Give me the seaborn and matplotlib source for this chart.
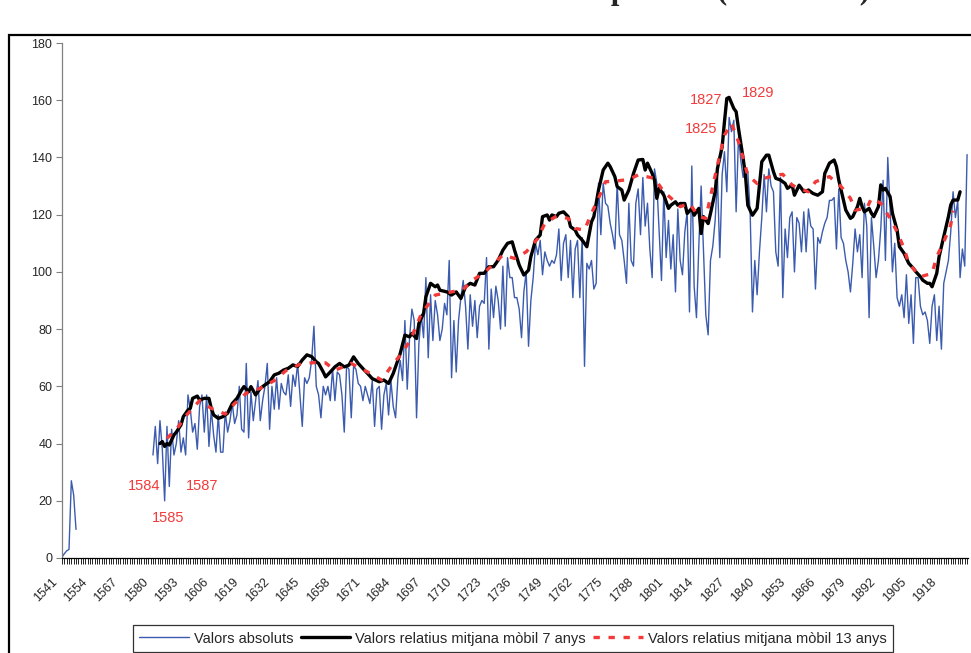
import numpy as np
import pandas as pd
import matplotlib
matplotlib.use("Agg")
import matplotlib.pyplot as plt
import matplotlib.transforms as mtransforms
import seaborn as sns
from matplotlib.patches import Rectangle
from matplotlib.lines import Line2D

# --- data ---
years_early = list(range(1541, 1548))
abs_early = [0.3, 1.5, 2.5, 3, 27, 22, 10]

years_abs = list(range(1580, 1930))
abs_vals = [
    36, 46, 33, 48, 38, 20, 46, 25, 45, 36,
    40, 48, 37, 42, 36, 57, 52, 44, 47, 38,
    53, 57, 44, 57, 39, 52, 43, 37, 50, 37,
    37, 51, 44, 48, 54, 47, 50, 60, 45, 44,
    68, 42, 58, 48, 55, 62, 48, 55, 60, 68,
    45, 60, 52, 63, 52, 61, 58, 57, 64, 53,
    64, 60, 68, 57, 46, 63, 61, 63, 69, 81,
    60, 57, 49, 60, 57, 60, 55, 66, 55, 65,
    64, 57, 44, 67, 66, 49, 67, 66, 61, 60,
    55, 60, 57, 54, 62, 46, 59, 60, 45, 57,
    61, 50, 62, 53, 49, 63, 69, 62, 83, 59,
    77, 87, 83, 49, 75, 85, 77, 98, 70, 92,
    76, 90, 85, 76, 80, 89, 85, 104, 63, 83,
    65, 83, 91, 97, 88, 73, 92, 81, 90, 77,
    88, 90, 89, 105, 73, 94, 84, 95, 90, 80,
    102, 81, 105, 98, 98, 91, 91, 87, 77, 93,
    100, 74, 90, 98, 110, 106, 111, 99, 107, 104,
    102, 104, 103, 106, 115, 97, 110, 113, 98, 111,
    91, 108, 111, 91, 112, 67, 103, 101, 104, 94,
    96, 131, 113, 131, 124, 123, 117, 113, 108, 131,
    113, 111, 104, 96, 124, 104, 102, 124, 129, 113,
    133, 116, 124, 108, 98, 136, 131, 114, 97, 128,
    105, 118, 101, 113, 93, 122, 104, 99, 114, 121,
    86, 137, 95, 84, 109, 130, 107, 85, 78, 104,
    109, 118, 133, 105, 134, 142, 128, 154, 149, 153,
    121, 147, 139, 133, 136, 135, 121, 86, 104, 92,
    107, 119, 134, 121, 136, 130, 128, 107, 102, 133,
    91, 115, 105, 119, 121, 100, 119, 117, 107, 121,
    107, 122, 116, 115, 94, 112, 110, 114, 117, 119,
    125, 125, 126, 108, 129, 112, 110, 104, 100, 93,
    103, 115, 107, 113, 98, 124, 116, 84, 119, 109,
    98, 104, 115, 132, 104, 140, 122, 100, 110, 91,
    88, 92, 84, 99, 82, 92, 75, 98, 98, 88,
    85, 86, 83, 75, 88, 92, 76, 88, 73, 96,
    100, 104, 114, 128, 119, 125, 98, 108, 102, 141,
]

black_years = [
    1583, 1584, 1585, 1586, 1587, 1589, 1590, 1592, 1593, 1595, 1596, 1597, 1599, 1600,
    1602, 1604, 1605, 1606, 1608, 1610, 1612, 1614, 1616, 1618, 1619, 1621, 1622, 1624,
    1626, 1628, 1630, 1632, 1634, 1636, 1638, 1640, 1642, 1644, 1646, 1648, 1650, 1651,
    1653, 1654, 1656, 1658, 1660, 1662, 1664, 1666, 1668, 1670, 1672, 1674, 1677, 1679,
    1681, 1683, 1684, 1686, 1688, 1690, 1691, 1693, 1694, 1696, 1697, 1699, 1701, 1702,
    1703, 1706, 1708, 1710, 1712, 1714, 1716, 1718, 1720, 1722, 1724, 1726, 1728, 1730,
    1732, 1734, 1735, 1737, 1739, 1741, 1742, 1744, 1746, 1747, 1749, 1750, 1751, 1753,
    1754, 1756, 1758, 1759, 1761, 1762, 1764, 1766, 1768, 1769, 1771, 1773, 1775, 1776,
    1778, 1779, 1781, 1782, 1784, 1786, 1788, 1790, 1791, 1792, 1794, 1795, 1796, 1797,
    1799, 1801, 1802, 1804, 1805, 1806, 1808, 1809, 1811, 1812, 1814, 1815, 1816, 1818,
    1819, 1821, 1822, 1824, 1825, 1826, 1827, 1828, 1829, 1830, 1831, 1833, 1834, 1835,
    1837, 1839, 1840, 1841, 1843, 1844, 1846, 1847, 1849, 1851, 1852, 1854, 1855, 1857,
    1858, 1859, 1861, 1863, 1865, 1867, 1868, 1869, 1870, 1872, 1873, 1874, 1876, 1877,
    1879, 1880, 1882, 1883, 1884, 1885, 1887, 1888, 1889, 1891, 1892, 1893, 1894, 1896,
    1897, 1899, 1900, 1902, 1903, 1904, 1906, 1907, 1909, 1910, 1912, 1913, 1914, 1916,
    1917, 1919, 1921, 1922, 1923, 1925, 1926,
]
black_vals = [
    40, 40.7, 39, 40, 39.5, 43, 44, 46.5, 49.4, 51.7, 52.3, 55.8, 56.6, 55.2,
    55.8, 55.8, 52.3, 50, 48.8, 49.4, 50.6, 54, 55.8, 58.7, 59.9, 58.1, 59.9, 57,
    59.3, 60.5, 61.6, 64, 64.6, 65.7, 66.3, 67.5, 66.9, 69.2, 71, 70.4, 68.6, 68,
    65, 63.3, 65, 66.8, 68, 66.8, 67.4, 70.3, 68, 66.2, 64.5, 62.7, 61.6, 62.2,
    61, 64.5, 66.8, 71.5, 77.9, 77.3, 78.5, 76.7, 82, 85.5, 91.3, 96, 94.8, 95.4,
    93.6, 93, 91.9, 93, 90.7, 94.8, 96, 95.4, 99.5, 99.5, 101.8, 101.8, 104.1, 107.6,
    110, 110.5, 107.6, 102.4, 98.9, 100.6, 105.3, 111.1, 112.9, 119.3, 119.9, 118.1, 119.9, 119.3,
    120.5, 121, 119.3, 115.8, 114.6, 112.9, 111.1, 108.8, 117.5, 119.3, 128.6, 135.6, 138, 136.8,
    133.3, 129.8, 128.6, 125.1, 128.6, 134.4, 139.1, 139.3, 135.6, 138, 134.4, 132.1, 125.7, 129.2,
    126.8, 122.2, 123.3, 124.5, 123.3, 123.9, 123.9, 120.4, 122.2, 119.8, 122.2, 113.4, 119.3, 116.9,
    120.4, 128, 136.2, 143.7, 152.5, 160.6, 161, 159, 157.1, 156, 150.2, 139.7, 133.8, 123.3,
    119.8, 122.2, 130.3, 138.5, 140.8, 140.8, 135, 132.7, 132.1, 130.9, 129.2, 130.3, 126.8, 130.3,
    129.2, 128, 128.6, 127.4, 126.8, 128, 134.4, 136.2, 138, 139.1, 136.8, 132.1, 125.1, 121.6,
    118.7, 119.3, 122.8, 125.7, 122.8, 121, 122.2, 120.5, 119.3, 122.8, 130.4, 128.6, 129.2, 126.3,
    120.5, 114.6, 108.8, 106.5, 104.7, 103, 101.2, 100.1, 98.3, 97.1, 96, 96, 94.8, 99.5,
    105.3, 112.3, 119.3, 123.4, 125.1, 125.1, 128,
]

red_years = [
    1586, 1591, 1594, 1600, 1605, 1611, 1615, 1620, 1626, 1632, 1637, 1643, 1649, 1654,
    1658, 1665, 1672, 1678, 1682, 1686, 1690, 1695, 1701, 1708, 1713, 1717, 1722, 1725,
    1730, 1735, 1740, 1745, 1748, 1753, 1758, 1761, 1765, 1768, 1771, 1774, 1779, 1784,
    1788, 1795, 1799, 1803, 1806, 1810, 1814, 1817, 1819, 1822, 1825, 1828, 1831, 1833,
    1835, 1839, 1842, 1847, 1850, 1854, 1857, 1861, 1864, 1870, 1875, 1879, 1881, 1886,
    1888, 1892, 1896, 1899, 1902, 1904, 1909, 1914, 1916, 1919, 1922, 1923,
]
red_vals = [
    41.8, 46, 49.6, 55, 52.3, 50.3, 54, 57.6, 59.3, 62, 65.5, 67.7, 68.3, 68.2,
    65.6, 68, 65, 62.2, 66.8, 70.9, 75.6, 85.2, 91.9, 93, 93.9, 97.1, 99.7, 102,
    105.9, 104.7, 107, 111.7, 117, 119.5, 118.7, 115.2, 114.6, 120.5, 125.7, 131.5, 131.8, 132.3,
    133.9, 132.7, 128, 125.1, 122.8, 123.9, 119.3, 118.7, 126.3, 137.3, 147.8, 151.9, 145.5, 139.7,
    133.8, 130.9, 132.7, 133.8, 134.1, 130.3, 129.2, 128, 131.5, 133.3, 129.8, 125.7, 121.6, 122.2,
    125.7, 124, 118.7, 114, 108.2, 103, 98.3, 99.5, 105.3, 110.5, 116.4, 121.4,
]

tick_years = list(range(1541, 1919, 13))
series_labels = ["Valors absoluts",
                 "Valors relatius mitjana mòbil 7 anys",
                 "Valors relatius mitjana mòbil 13 anys"]
note_labels = ["1584", "1585", "1587", "1827", "1829", "1825"]
note_pos = [(1576.2, 25.3), (1586.5, 14.0), (1600.9, 25.3),
            (1817.3, 160.1), (1839.4, 162.6), (1815.2, 149.8)]

BLUE = "#3B5BAF"
RED = "#F23A3A"
DASH = (0, (1.9, 2.6))

sns.set_style("ticks")
plt.rcParams['font.family'] = ['Liberation Sans', 'DejaVu Sans']

W, H = 971, 653
fig = plt.figure(figsize=(W / 100, H / 100), dpi=100)
ax = fig.add_axes([62 / W, 1 - 558 / H, (968 - 62) / W, (558 - 43) / H])

sns.lineplot(x=years_early, y=abs_early, ax=ax, color=BLUE, linewidth=1.0)
sns.lineplot(x=years_abs, y=abs_vals, ax=ax, color=BLUE, linewidth=1.0)
sns.lineplot(x=black_years, y=black_vals, ax=ax, color="black", linewidth=2.4)
sns.lineplot(x=red_years, y=red_vals, ax=ax, color=RED, linewidth=2.4, linestyle=DASH)

ax.set_xlim(1541, 1929.4)
ax.set_ylim(0, 180)
ax.set_yticks(range(0, 181, 20))
ax.set_xticks(tick_years)
ax.set_xticks(range(1541, 1930), minor=True)
ax.set_xticklabels([str(y) for y in tick_years], rotation=45, ha="right",
                   rotation_mode="anchor", fontsize=9)
ax.tick_params(axis="x", which="both", direction="out", length=4, width=0.6,
               color="black", pad=6)
ax.tick_params(axis="y", direction="out", length=4, width=0.8, labelsize=9,
               color="#808080", pad=3)
# nudge rotated year labels left/down like the original
shift = mtransforms.ScaledTranslation(-11 / 100, -4 / 100, fig.dpi_scale_trans)
for lab in ax.get_xticklabels():
    lab.set_transform(lab.get_transform() + shift)
ax.set_xlabel("")
ax.set_ylabel("")
for s in ["top", "right"]:
    ax.spines[s].set_visible(False)
ax.spines["left"].set_color("#808080")
ax.spines["left"].set_linewidth(0.9)
ax.spines["bottom"].set_color("black")
ax.spines["bottom"].set_linewidth(0.9)

for txt, (xx, yy) in zip(note_labels, note_pos):
    ax.text(xx, yy, txt, color=RED, fontsize=10.5, ha="center", va="center")

handles = [Line2D([], [], color=BLUE, linewidth=1.0),
           Line2D([], [], color="black", linewidth=2.4),
           Line2D([], [], color=RED, linewidth=2.4, linestyle=DASH)]
leg = fig.legend(handles, series_labels, loc="upper center",
                 bbox_to_anchor=(513 / W, 1 - 625 / H), ncol=3, fontsize=10.5,
                 frameon=True, fancybox=False, edgecolor="black",
                 handlelength=3.4, handletextpad=0.35, columnspacing=0.5,
                 borderpad=0.45, borderaxespad=0)
leg.get_frame().set_linewidth(0.9)

# outer chart-area frame (cut off at right and bottom)
fig.patches.append(Rectangle((9 / W, -0.1), 2, 1 - 35 / H + 0.1,
                             transform=fig.transFigure, fill=False,
                             edgecolor="black", linewidth=1.6))

# title, almost entirely above the top edge: only descenders show
fig.text(870 / W, 1 + 1 / H, "Evolució dels baptismes (1541-1929)",
         ha="right", va="baseline", fontsize=22, fontweight="bold",
         family=["Liberation Serif", "DejaVu Serif"])

fig.savefig("out.png", dpi=100)
